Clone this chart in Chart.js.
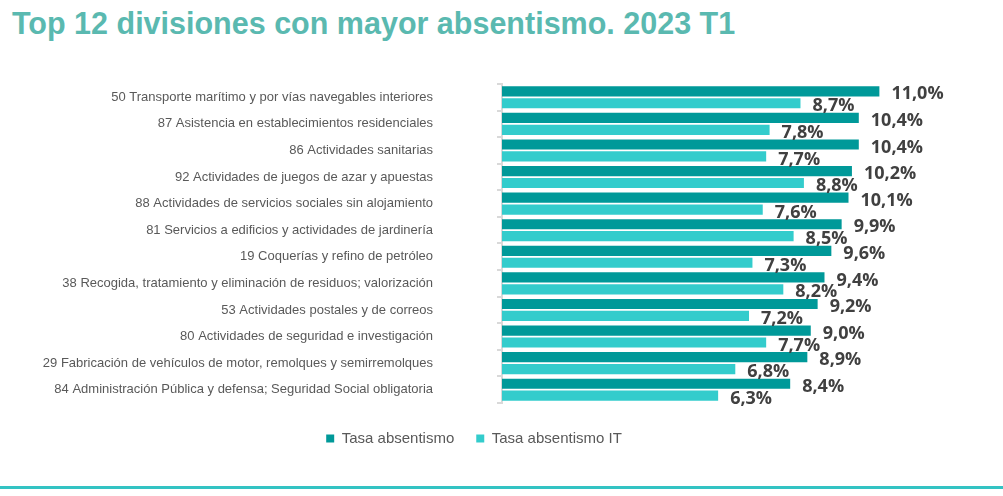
<!DOCTYPE html>
<html>
<head>
<meta charset="utf-8">
<script src="https://cdn.jsdelivr.net/npm/chart.js@4/dist/chart.umd.min.js"></script>
<style>
  html, body { margin: 0; padding: 0; background: #fff; }
  body { width: 1003px; height: 496px; position: relative; overflow: hidden; }
  #title {
    position: absolute; left: 12px; top: 8px;
    font-family: "Liberation Sans", Arial, sans-serif; font-weight: bold;
    font-size: 30.5px; line-height: 30px; color: #5ab9b0; white-space: nowrap;
  }
  #wrap { position: absolute; left: 0; top: 0; width: 1003px; height: 496px; }
  #bottomLine { position: absolute; left: 0; top: 486px; width: 1003px; height: 3px; background: #33c3c3; }
</style>
</head>
<body>
<div id="title">Top 12 divisiones con mayor absentismo. 2023 T1</div>
<div id="wrap"><canvas id="chart"></canvas></div>
<div id="bottomLine"></div>
<script>
const categories = [
  "50 Transporte marítimo y por vías navegables interiores",
  "87 Asistencia en establecimientos residenciales",
  "86 Actividades sanitarias",
  "92 Actividades de juegos de azar y apuestas",
  "88 Actividades de servicios sociales sin alojamiento",
  "81 Servicios a edificios y actividades de jardinería",
  "19 Coquerías y refino de petróleo",
  "38 Recogida, tratamiento y eliminación de residuos; valorización",
  "53 Actividades postales y de correos",
  "80 Actividades de seguridad e investigación",
  "29 Fabricación de vehículos de motor, remolques y semirremolques",
  "84 Administración Pública y defensa; Seguridad Social obligatoria"
];
const tasaAbsentismo = [11.0, 10.4, 10.4, 10.2, 10.1, 9.9, 9.6, 9.4, 9.2, 9.0, 8.9, 8.4];
const tasaAbsentismoIT = [8.7, 7.8, 7.7, 8.8, 7.6, 8.5, 7.3, 8.2, 7.2, 7.7, 6.8, 6.3];
const seriesNames = ["Tasa absentismo", "Tasa absentismo IT"];

const fmt = v => v.toFixed(1).replace('.', ',') + '%';

// value labels to the right of every bar
const valueLabels = {
  id: 'valueLabels',
  afterDatasetsDraw(chart) {
    const ctx = chart.ctx;
    ctx.save();
    ctx.font = 'bold 18px "Open Sans", sans-serif';
    ctx.fillStyle = '#404040';
    ctx.textBaseline = 'middle';
    ctx.textAlign = 'left';
    chart.data.datasets.forEach((ds, i) => {
      chart.getDatasetMeta(i).data.forEach((bar, j) => {
        ctx.fillText(fmt(ds.data[j]), bar.x + 12, bar.y + 3);
      });
    });
    ctx.restore();
  }
};

new Chart(document.getElementById('chart'), {
  type: 'bar',
  data: {
    labels: categories,
    datasets: [
      { label: seriesNames[0], data: tasaAbsentismo, backgroundColor: '#009999' },
      { label: seriesNames[1], data: tasaAbsentismoIT, backgroundColor: '#33cccc' }
    ]
  },
  options: {
    indexAxis: 'y',
    responsive: true,
    maintainAspectRatio: false,
    animation: false,
    barPercentage: 0.85,
    categoryPercentage: 0.9,
    layout: { padding: { top: 84, right: 55, bottom: 40, left: 0 } },
    scales: {
      x: {
        min: 0, max: 13,
        grid: { display: false, drawTicks: false },
        border: { display: false },
        ticks: { display: false },
        afterFit: s => { s.height = 6; }
      },
      y: {
        grid: { drawOnChartArea: false, tickLength: 5, color: '#d9d9d9', lineWidth: 2 },
        border: { color: '#d9d9d9', width: 2 },
        ticks: {
          padding: 64,
          autoSkip: false,
          color: '#595959',
          font: { family: '"Liberation Sans", Arial, sans-serif', size: 13 }
        },
        afterFit: s => { s.width = 502; }
      }
    },
    plugins: {
      legend: {
        position: 'bottom',
        labels: {
          boxWidth: 8, boxHeight: 8,
          color: '#595959',
          padding: 22,
          font: { family: '"Liberation Sans", Arial, sans-serif', size: 15 }
        }
      },
      tooltip: { enabled: false }
    }
  },
  plugins: [valueLabels]
});
</script>
</body>
</html>
